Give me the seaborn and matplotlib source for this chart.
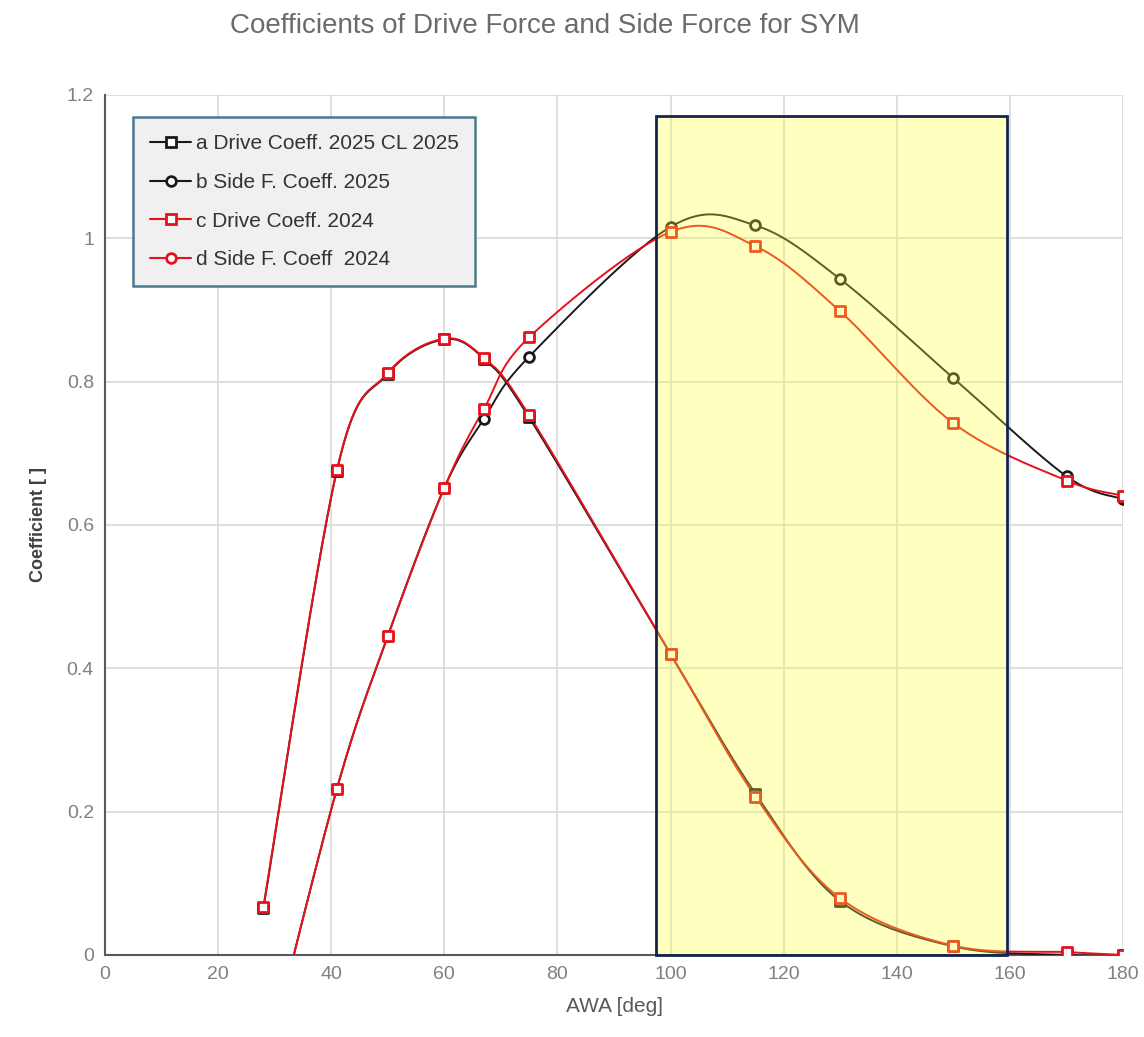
import matplotlib
matplotlib.use("Agg")
import matplotlib.pyplot as plt
from matplotlib.lines import Line2D
from matplotlib.patches import Rectangle
from matplotlib import font_manager
import seaborn as sns
import numpy as np
import pandas as pd

# --- data ---
awa = [28, 41, 50, 60, 67, 75, 100, 115, 130, 150, 170, 180]
drive_2025 = [0.065, 0.676, 0.811, 0.859, 0.832, 0.750, 0.420, 0.225, 0.075, 0.012, 0.000, 0.000]
side_2025 = [-0.17, 0.232, 0.445, 0.652, 0.748, 0.835, 1.016, 1.018, 0.943, 0.805, 0.668, 0.636]
drive_2024 = [0.067, 0.677, 0.812, 0.860, 0.833, 0.753, 0.420, 0.221, 0.079, 0.013, 0.004, 0.000]
side_2024 = [-0.17, 0.232, 0.445, 0.652, 0.762, 0.862, 1.009, 0.989, 0.898, 0.742, 0.662, 0.641]

labels = ["a Drive Coeff. 2025 CL 2025", "b Side F. Coeff. 2025",
          "c Drive Coeff. 2024", "d Side F. Coeff  2024"]
highlight = (97.5, 159.5, 1.171)  # AWA span and top of the box


def smooth(x, y, sx=5.656, sy=716.7, n=30):
    # Excel-style smoothed line: Bezier through points, tension 1/6, in screen scale
    p = np.column_stack([np.asarray(x, float) * sx, np.asarray(y, float) * sy])
    p = np.vstack([p[0], p, p[-1]])
    out = []
    t = np.linspace(0, 1, n)[:, None]
    for i in range(1, len(p) - 2):
        p0, p1, p2, p3 = p[i - 1], p[i], p[i + 1], p[i + 2]
        c1 = p1 + (p2 - p0) / 6
        c2 = p2 - (p3 - p1) / 6
        seg = ((1 - t) ** 3) * p1 + 3 * ((1 - t) ** 2) * t * c1 + 3 * (1 - t) * t ** 2 * c2 + t ** 3 * p2
        out.append(seg)
    out = np.vstack(out)
    return out[:, 0] / sx, out[:, 1] / sy


sns.set_theme(style="white")
plt.rcParams['font.family'] = ['Liberation Sans', 'DejaVu Sans']

installed = {f.name for f in font_manager.fontManager.ttflist}
narrow = ['Liberation Sans Narrow', 'DejaVu Sans'] if 'Liberation Sans Narrow' in installed \
    else ['Liberation Sans', 'DejaVu Sans']

fig = plt.figure(figsize=(11.44, 10.37), dpi=100)
ax = fig.add_axes([0.0918, 0.0791, 0.8899, 0.8293])

series = [
    (drive_2025, "#1a1a1a", "s", labels[0]),
    (side_2025, "#1a1a1a", "o", labels[1]),
    (drive_2024, "#e8101c", "s", labels[2]),
    (side_2024, "#e8101c", "s", labels[3]),
]

for vals, col, mk, lab in series:
    sx, sy = smooth(awa, vals)
    sns.lineplot(x=sx, y=sy, ax=ax, color=col, lw=1.4, sort=False, zorder=3)
for vals, col, mk, lab in series:
    df = pd.DataFrame({"awa": awa, "val": vals})
    sns.scatterplot(data=df, x="awa", y="val", ax=ax, marker=mk, s=50,
                    facecolor="white", edgecolor=col, linewidth=2, zorder=4)

# highlight box (over the lines, translucent)
x0, x1, top = highlight
ax.add_patch(Rectangle((x0, 0), x1 - x0, top, facecolor="#ffff30", alpha=0.3,
                       edgecolor="none", zorder=5))
ax.add_patch(Rectangle((x0, 0), x1 - x0, top, facecolor="none",
                       edgecolor="#14224f", lw=2, zorder=6, clip_on=False))

ax.set_xlim(0, 180)
ax.set_ylim(0, 1.2)
ax.set_xticks(range(0, 181, 20))
ax.set_yticks([0, 0.2, 0.4, 0.6, 0.8, 1.0, 1.2])
ax.set_yticklabels(["0", "0.2", "0.4", "0.6", "0.8", "1", "1.2"])
ax.grid(True, color="#d9d9d9", lw=1.2)
ax.set_axisbelow(True)
for s in ["top", "right"]:
    ax.spines[s].set_visible(False)
for s in ["left", "bottom"]:
    ax.spines[s].set_color("#595959")
    ax.spines[s].set_linewidth(1.5)
ax.tick_params(axis="both", colors="#808080", labelsize=14, length=0, pad=8)
for t in ax.get_xticklabels() + ax.get_yticklabels():
    t.set_family(narrow)

ax.set_xlabel("AWA [deg]", fontsize=15, color="#595959", labelpad=10, family=narrow)
ax.set_ylabel("Coefficient [ ]", fontsize=13, color="#404040", fontweight="bold", labelpad=14)

fig.text(0.476, 0.975, "Coefficients of Drive Force and Side Force for SYM",
         ha="center", va="center", fontsize=20, color="#6b6b6b", family=narrow)

handles = [
    Line2D([], [], color="#1a1a1a", marker="s", mfc="white", mec="#1a1a1a", mew=2, ms=7, lw=1.5),
    Line2D([], [], color="#1a1a1a", marker="o", mfc="white", mec="#1a1a1a", mew=2, ms=7, lw=1.5),
    Line2D([], [], color="#e8101c", marker="s", mfc="white", mec="#e8101c", mew=2, ms=7, lw=1.5),
    Line2D([], [], color="#e8101c", marker="o", mfc="white", mec="#e8101c", mew=2, ms=7, lw=1.5),
]
leg = ax.legend(handles, labels, loc="upper left", bbox_to_anchor=(0.0275, 0.974),
                borderaxespad=0, fontsize=15, frameon=True, fancybox=False,
                handlelength=2.0, handletextpad=0.2, labelspacing=0.95, borderpad=0.8)
leg.get_frame().set_facecolor("#f0f0f0")
leg.get_frame().set_edgecolor("#4a7a90")
leg.get_frame().set_linewidth(1.8)
leg.get_frame().set_alpha(1)
for t in leg.get_texts():
    t.set_color("#333333")
leg.set_zorder(10)

fig.savefig("out.png", dpi=100)
